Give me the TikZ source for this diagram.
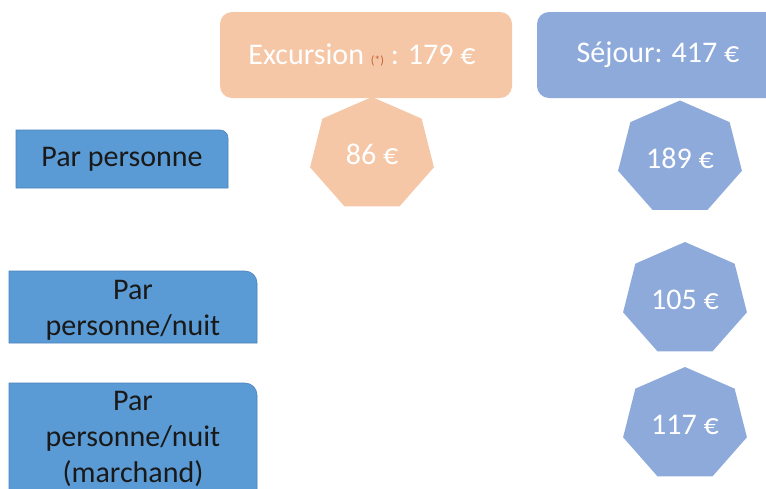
\documentclass[tikz,border=0pt]{standalone}
\usepackage{fontspec}
\setmainfont{Carlito}
\definecolor{peach}{HTML}{F5C7A6}
\definecolor{lavblue}{HTML}{8EAADB}
\definecolor{rowblue}{HTML}{5B9BD5}
\definecolor{rowline}{HTML}{4A82BE}
\definecolor{starred}{HTML}{C8603A}
\tikzset{%
  head/.style = {rectangle, rounded corners=12pt, minimum height=86pt,
        text=white, font=\fontsize{30}{36}\selectfont},
  price/.style = {text=white, font=\fontsize{30}{36}\selectfont},
  rowbox/.style = {fill=rowblue, draw=rowline, line width=0.6pt},
  rowtext/.style = {text=black!90, align=center,
        font=\fontsize{30}{36}\selectfont}
}

\begin{document}
\begin{tikzpicture}[x=1pt, y=-1pt]
\useasboundingbox (0,0) rectangle (766,488);
% headers
\node[head, fill=peach, minimum width=292pt] (exc) at (366,55) {};
\node[text=white, font=\fontsize{30}{36}\selectfont] (exctext) at (362,55)
    {Excursion {\fontsize{12}{12}\selectfont\color{starred}(*)} : 179 €};
\node[head, fill=lavblue, minimum width=242pt] (sej) at (658,55)
    {Séjour: 417 €};
% heptagons
\coordinate (h86) at (372,154.5);
\coordinate (h189) at (680,158);
\coordinate (h105) at (685,299.5);
\coordinate (h117) at (685,424.5);
\foreach \c/\col in {h86/peach, h189/lavblue, h105/lavblue, h117/lavblue}
    \fill[\col] (\c) +(-90:63.5 and 57.5)
        \foreach \k in {1,...,6}{ -- +(-90+\k*360/7:63.5 and 57.5)} -- cycle;
\node[price] (p86) at (h86) {86 €};
\node[price] (p189) at (h189) {189 €};
\node[price] (p105) at (h105) {105 €};
\node[price] (p117) at (h117) {117 €};
% row labels
\filldraw[rowbox] (16,188) -- (16,130) -- (220,130)
    arc[start angle=90, end angle=0, radius=8pt] -- (228,188) -- cycle;
\node[rowtext] (pp) at (122,159) {Par personne};
\filldraw[rowbox] (9,343) -- (9,271) -- (245,271)
    arc[start angle=90, end angle=0, radius=12pt] -- (257,343) -- cycle;
\node[rowtext] (ppn) at (133,310) {Par\\personne/nuit};
\filldraw[rowbox] (9,500) -- (9,383) -- (245,383)
    arc[start angle=90, end angle=0, radius=12pt] -- (257,500) -- cycle;
\node[rowtext] (ppm) at (133,439) {Par\\personne/nuit\\(marchand)};
\end{tikzpicture}
\end{document}
